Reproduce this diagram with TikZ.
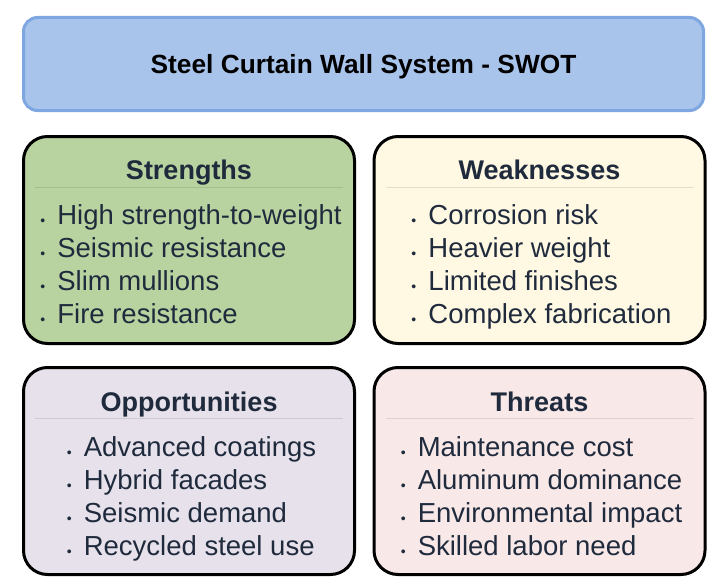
\documentclass[tikz,border=0pt]{standalone}
\usepackage{fontspec}
\setmainfont{Liberation Sans}
\usetikzlibrary{positioning,calc}

\definecolor{titlefill}{HTML}{A9C4EB}
\definecolor{titleline}{HTML}{7EA6E0}
\definecolor{strfill}{HTML}{B9D3A0}
\definecolor{weakfill}{HTML}{FFF8E2}
\definecolor{oppfill}{HTML}{E6E1EA}
\definecolor{thrfill}{HTML}{F8E8E8}
\definecolor{navy}{HTML}{1F2B3D}

\newcommand{\swotdot}{\makebox[17pt][l]{\raisebox{-1.2pt}{\fontsize{14}{14}\selectfont\textbullet}}}

\begin{document}
\begin{tikzpicture}
  [x=1pt,y=-1pt,
   titlebox/.style={draw=titleline,fill=titlefill,line width=3pt,rounded corners=14pt,
     minimum width=680pt,minimum height=93pt,text depth=0pt,
     font=\bfseries\fontsize{26.3}{30}\selectfont},
   quad/.style={draw=black,line width=3pt,rounded corners=24pt,
     minimum width=331pt,minimum height=207pt},
   head/.style={anchor=base,text=navy,font=\bfseries\fontsize{27}{32}\selectfont},
   items/.style={anchor=north,inner sep=0pt,align=left,text=navy,
     font=\fontsize{27.5}{33}\selectfont},
   sep/.style={draw=black,opacity=0.1,line width=1pt}]
  \useasboundingbox (0,0) rectangle (712,586);

  \node[titlebox] (title) at (363.5,64) {Steel Curtain Wall System - SWOT};

  % the four quadrants
  \node[quad,fill=strfill]  (str)  at (189,240) {};
  \node[quad,fill=weakfill] (weak) at (539.5,240) {};
  \node[quad,fill=oppfill]  (opp)  at (189,471) {};
  \node[quad,fill=thrfill]  (thr)  at (539.5,471) {};

  \node[head] (strh)  at ($(str.north)+(0,44)$)  {Strengths};
  \node[head] (weakh) at ($(weak.north)+(0,44)$) {Weaknesses};
  \node[head] (opph)  at ($(opp.north)+(0,45)$)  {Opportunities};
  \node[head] (thrh)  at ($(thr.north)+(0,45)$)  {Threats};

  \foreach \quadname in {str,weak,opp,thr}
    \draw[sep] ($(\quadname.north west)+(13,52)$) -- ($(\quadname.north east)+(-13,52)$);

  \node[items] (strl) at ($(str.north)+(2,69)$)
    {\swotdot High strength-to-weight\\ \swotdot Seismic resistance\\
     \swotdot Slim mullions\\ \swotdot Fire resistance};
  \node[items] (weakl) at ($(weak.north)+(2,69)$)
    {\swotdot Corrosion risk\\ \swotdot Heavier weight\\
     \swotdot Limited finishes\\ \swotdot Complex fabrication};
  \node[items] (oppl) at ($(opp.north)+(2.5,70)$)
    {\swotdot Advanced coatings\\ \swotdot Hybrid facades\\
     \swotdot Seismic demand\\ \swotdot Recycled steel use};
  \node[items] (thrl) at ($(thr.north)+(2,70)$)
    {\swotdot Maintenance cost\\ \swotdot Aluminum dominance\\
     \swotdot Environmental impact\\ \swotdot Skilled labor need};
\end{tikzpicture}
\end{document}
